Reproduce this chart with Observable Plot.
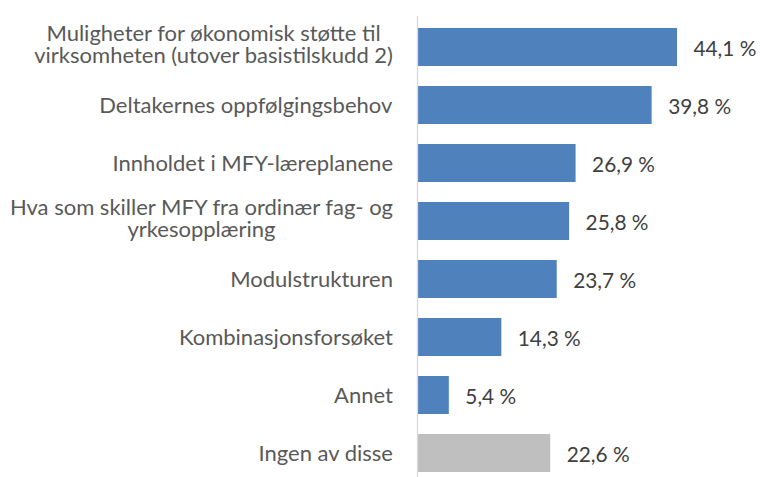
<!DOCTYPE html>
<html>
<head>
<meta charset="utf-8">
<script src="https://cdn.jsdelivr.net/npm/d3@7"></script>
<script src="https://cdn.jsdelivr.net/npm/@observablehq/plot@0.6"></script>
<style>
  html, body { margin: 0; padding: 0; background: #fff; }
  #chart { width: 760px; height: 477px; overflow: hidden; }
</style>
</head>
<body>
<div id="chart"></div>
<script>
const categories = [
  "Muligheter for økonomisk støtte til\nvirksomheten (utover basistilskudd 2)",
  "Deltakernes oppfølgingsbehov",
  "Innholdet i MFY-læreplanene",
  "Hva som skiller MFY fra ordinær fag- og\nyrkesopplæring",
  "Modulstrukturen",
  "Kombinasjonsforsøket",
  "Annet",
  "Ingen av disse"
];
const values = [44.1, 39.8, 26.9, 25.8, 23.7, 14.3, 5.4, 22.6];
const groups = ["svar", "svar", "svar", "svar", "svar", "svar", "svar", "ingen"];

const data = categories.map((c, i) => ({category: c, value: values[i], group: groups[i]}));
const fmt = v => v.toFixed(1).replace(".", ",") + " %";

const W = 760, H = 477;
const plot = Plot.plot({
  width: W,
  height: H,
  marginLeft: 417,
  marginRight: 83,
  marginTop: 16,
  marginBottom: 0,
  style: {fontFamily: "Lato, sans-serif", background: "#fff"},
  x: {domain: [0, 44.1], axis: null},
  y: {domain: categories, range: [15.7, 485.3], paddingInner: 0.34, paddingOuter: 0.17, axis: null},
  color: {domain: ["svar", "ingen"], range: ["#4F81BD", "#BFBFBF"]},
  marks: [
    Plot.barX(data, {y: "category", x: "value", fill: "group"}),
    Plot.ruleX([0], {stroke: "#D9D9D9", strokeWidth: 1.3}),
    Plot.text(data, {
      y: "category", x: "value", text: d => fmt(d.value),
      textAnchor: "start", dx: 16, dy: 1.5, fontSize: 20.8, fill: "#404040"
    }),
    Plot.text(data, {
      y: "category", text: "category", frameAnchor: "left",
      textAnchor: "middle", lineHeight: 1.0, fontSize: 22, fill: "#595959",
      className: "cat-labels"
    })
  ]
});
document.getElementById("chart").appendChild(plot);

// align each label block's right edge to the same place, lines centred on each other
const svgRect = plot.getBoundingClientRect();
plot.querySelectorAll(".cat-labels text").forEach(t => {
  const r = t.getBoundingClientRect();
  const dx = 393 - (r.right - svgRect.left);
  const dy = t.querySelectorAll("tspan").length > 1 ? -3 : 0;
  t.setAttribute("transform", `translate(${dx},${dy}) ` + (t.getAttribute("transform") || ""));
});
</script>
</body>
</html>
